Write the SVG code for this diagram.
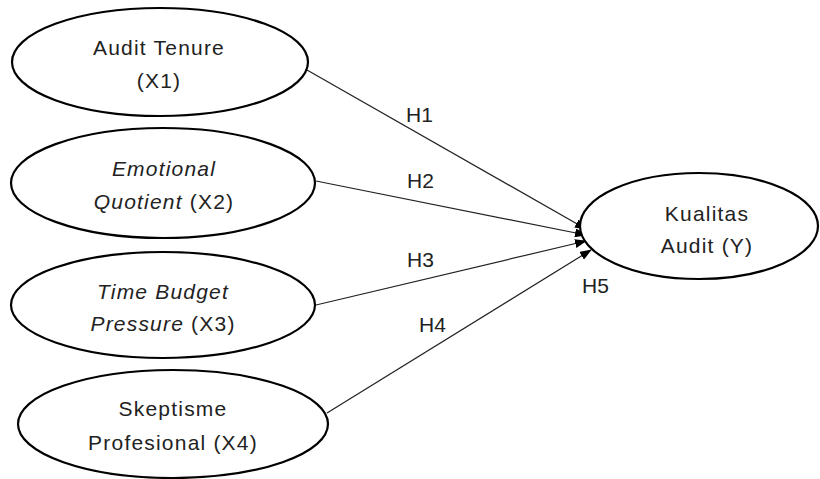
<svg xmlns="http://www.w3.org/2000/svg" width="820" height="479" viewBox="0 0 820 479">
<style>
.node{fill:#fff;stroke:#000;stroke-width:2.2}
.t{font-family:"Liberation Sans",Arial,sans-serif;font-size:21px;letter-spacing:1.2px;fill:#222;text-anchor:middle}
.i{font-style:italic}
.edge{stroke:#222;stroke-width:1.2;fill:none}
.lbl{font-family:"Liberation Sans",Arial,sans-serif;font-size:21px;fill:#222}
</style>
<defs>
<marker id="arr" markerWidth="12" markerHeight="9" refX="11" refY="4.5" orient="auto" markerUnits="userSpaceOnUse">
<path d="M0,0 L12,4.5 L0,9 Z" fill="#000"/>
</marker>
</defs>
<rect width="820" height="479" fill="#fff"/>
<g id="edges">
<line class="edge" x1="307" y1="70" x2="586" y2="229" marker-end="url(#arr)"/>
<line class="edge" x1="316" y1="181" x2="586" y2="235" marker-end="url(#arr)"/>
<line class="edge" x1="316" y1="305" x2="586" y2="241" marker-end="url(#arr)"/>
<line class="edge" x1="327" y1="413" x2="591" y2="250" marker-end="url(#arr)"/>
</g>
<g id="labels">
<text class="lbl" x="406" y="122">H1</text>
<text class="lbl" x="407" y="188">H2</text>
<text class="lbl" x="407" y="267">H3</text>
<text class="lbl" x="419" y="332">H4</text>
<text class="lbl" x="582" y="293">H5</text>
</g>
<g id="x1">
<ellipse class="node" cx="160" cy="62" rx="148" ry="54"/>
<text class="t" x="159" y="55">Audit Tenure</text>
<text class="t" x="159" y="88">(X1)</text>
</g>
<g id="x2">
<ellipse class="node" cx="163" cy="183" rx="152" ry="55"/>
<text class="t i" x="164" y="176">Emotional</text>
<text class="t" x="164" y="209"><tspan class="i">Quotient</tspan> (X2)</text>
</g>
<g id="x3">
<ellipse class="node" cx="163" cy="305" rx="152" ry="53"/>
<text class="t i" x="163" y="299">Time Budget</text>
<text class="t" x="163" y="331"><tspan class="i">Pressure</tspan> (X3)</text>
</g>
<g id="x4">
<ellipse class="node" cx="173" cy="424" rx="155" ry="54"/>
<text class="t" x="173" y="416">Skeptisme</text>
<text class="t" x="173" y="450">Profesional (X4)</text>
</g>
<g id="y">
<ellipse class="node" cx="699" cy="226" rx="119" ry="53"/>
<text class="t" x="707" y="221">Kualitas</text>
<text class="t" x="707" y="253">Audit (Y)</text>
</g>
</svg>
